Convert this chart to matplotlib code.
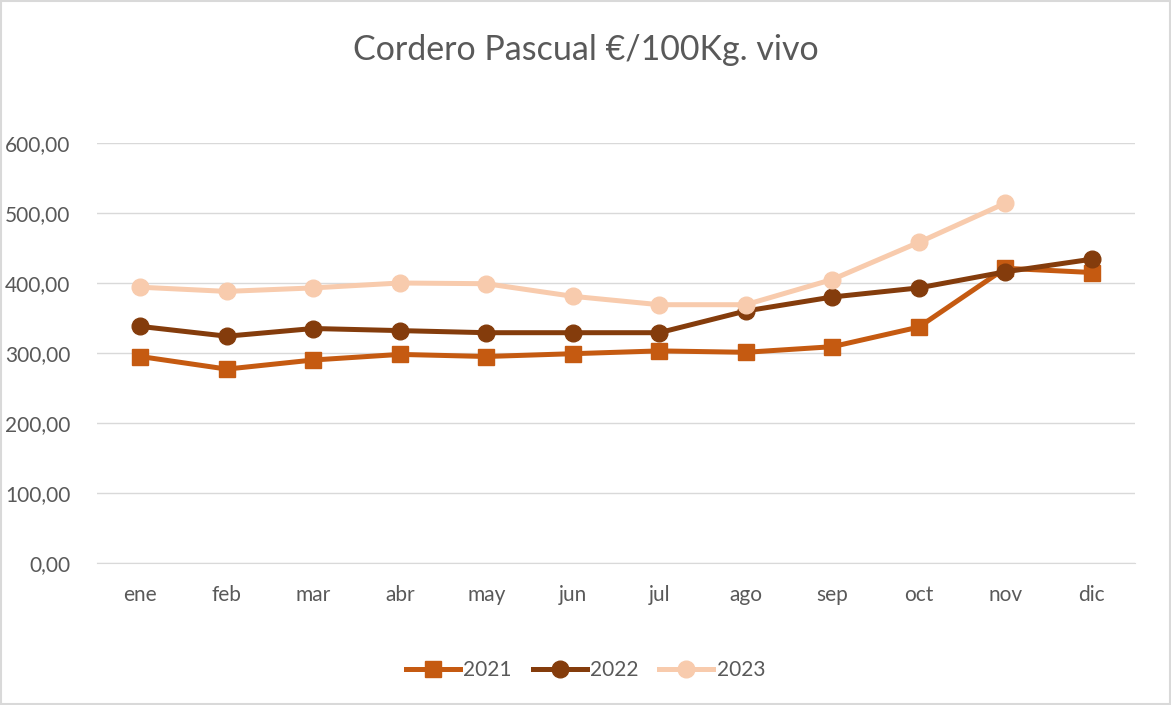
import matplotlib.pyplot as plt
from matplotlib.patches import Rectangle
from matplotlib.ticker import FuncFormatter

meses = ['ene', 'feb', 'mar', 'abr', 'may', 'jun', 'jul', 'ago', 'sep', 'oct', 'nov', 'dic']
y2021 = [295, 277, 290, 298, 295, 299, 303, 301, 309, 337, 421, 415]
y2022 = [338, 324, 335, 332, 329, 329, 329, 360, 380, 393, 416, 434]
y2023 = [394, 388, 393, 400, 399, 381, 369, 369, 405, 458, 514]

plt.rcParams['font.family'] = ['Lato', 'DejaVu Sans']

fig = plt.figure(figsize=(11.71, 7.05), dpi=100)
ax = fig.add_axes([97 / 1171, 1 - 563 / 705, (1135 - 97) / 1171, 420 / 705])

ax.plot(range(len(y2021)), y2021, color='#C55A11', lw=3.6, marker='s', ms=12, label='2021')
ax.plot(range(len(y2022)), y2022, color='#843C0C', lw=3.6, marker='o', ms=12, label='2022')
ax.plot(range(len(y2023)), y2023, color='#F8CBAD', lw=3.6, marker='o', ms=12, label='2023')

ax.set_xlim(-0.5, 11.5)
ax.set_ylim(0, 600)
ax.set_yticks(range(0, 601, 100))
ax.yaxis.set_major_formatter(FuncFormatter(lambda v, p: f'{v:.2f}'.replace('.', ',')))
ax.set_xticks(range(12))
ax.set_xticklabels(meses)
ax.grid(axis='y', color='#D9D9D9', lw=1)
ax.set_axisbelow(True)
for s in ['top', 'right', 'left']:
    ax.spines[s].set_visible(False)
ax.spines['bottom'].set_color('#D9D9D9')
ax.tick_params(length=0, labelsize=15, colors='#595959')
ax.tick_params(axis='x', pad=16)
ax.tick_params(axis='y', pad=19)

fig.text(0.5, 1 - 50 / 705, 'Cordero Pascual €/100Kg. vivo', ha='center', va='center',
         fontsize=24.5, color='#595959')

fig.legend(loc='center', bbox_to_anchor=(0.5, 1 - 670 / 705), ncol=3, frameon=False,
           fontsize=15, labelcolor='#595959', handlelength=2.6, columnspacing=1.0, handletextpad=0.15)

fig.patches.append(Rectangle((0.001, 0.001), 0.998, 0.998, transform=fig.transFigure,
                             fill=False, edgecolor='#D9D9D9', lw=1.5))

fig.savefig('out.png', dpi=100)
